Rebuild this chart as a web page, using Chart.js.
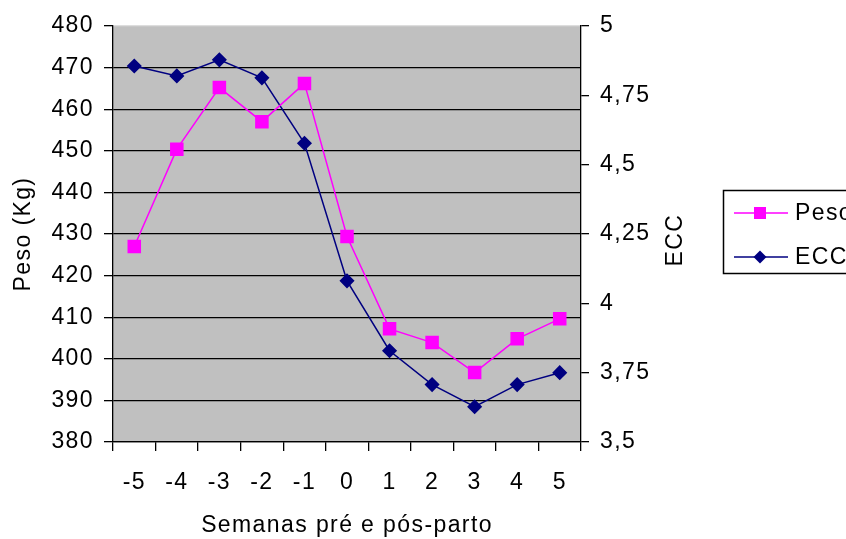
<!DOCTYPE html>
<html>
<head>
<meta charset="utf-8">
<script src="https://cdn.jsdelivr.net/npm/chart.js@4/dist/chart.umd.min.js"></script>
<style>
html,body{margin:0;padding:0;background:#fff;overflow:hidden;}
canvas{display:block;}
</style>
</head>
<body>
<canvas id="c" width="846" height="539"></canvas>
<script>
const categories = ['-5','-4','-3','-2','-1','0','1','2','3','4','5'];
const pesoValues = [427, 450.4, 465.2, 457.0, 466.2, 429.4, 407.2, 403.9, 396.7, 404.8, 409.6];
const eccValues = [4.856, 4.82, 4.878, 4.813, 4.577, 4.081, 3.829, 3.707, 3.627, 3.707, 3.75];
const pesoLabel = 'Peso';
const eccLabel = 'ECC';
const leftTitle = 'Peso (Kg)';
const rightTitle = 'ECC';
const xTitle = 'Semanas pré e pós-parto';

const FONT = '"Liberation Sans", Arial, sans-serif';
const FS = 23;
const LS = '1.4px';

const spacingPlugin = {
  id: 'spacing',
  beforeInit(chart) { chart.ctx.letterSpacing = LS; },
  beforeUpdate(chart) { chart.ctx.letterSpacing = LS; },
  beforeDraw(chart) { chart.ctx.letterSpacing = LS; }
};

const bgPlugin = {
  id: 'bg',
  beforeDraw(chart) {
    const {ctx, chartArea: a} = chart;
    ctx.save();
    ctx.fillStyle = '#C0C0C0';
    ctx.fillRect(a.left, a.top, a.right - a.left, a.bottom - a.top);
    ctx.restore();
  }
};

const extrasPlugin = {
  id: 'extras',
  afterDraw(chart) {
    const ctx = chart.ctx;
    const a = chart.chartArea;
    ctx.save();
    ctx.letterSpacing = LS;
    ctx.font = FS + 'px ' + FONT;
    ctx.fillStyle = '#000';
    ctx.textAlign = 'center';
    ctx.textBaseline = 'middle';
    ctx.translate(676, (a.top + a.bottom) / 2 + 6);
    ctx.rotate(-Math.PI / 2);
    ctx.fillText(rightTitle, 0, 0);
    ctx.restore();

    // legend
    ctx.save();
    ctx.letterSpacing = LS;
    const bx = 723.5, by = 190.5, bw = 200, bh = 83;
    ctx.fillStyle = '#fff';
    ctx.fillRect(bx, by, bw, bh);
    ctx.strokeStyle = '#000';
    ctx.lineWidth = 1.5;
    ctx.strokeRect(bx, by, bw, bh);
    const rows = [213, 257];
    chart.data.datasets.forEach((ds, i) => {
      const y = rows[i];
      ctx.strokeStyle = ds.borderColor;
      ctx.lineWidth = ds.borderWidth;
      ctx.beginPath();
      ctx.moveTo(734, y);
      ctx.lineTo(788, y);
      ctx.stroke();
      ctx.fillStyle = ds.pointBackgroundColor;
      ctx.beginPath();
      if (ds.pointStyle === 'rect') {
        const s = Math.SQRT1_2 * ds.pointRadius;
        ctx.rect(760 - s, y - s, 2 * s, 2 * s);
      } else {
        const r = ds.pointRadius;
        ctx.moveTo(760 - r, y); ctx.lineTo(760, y - r); ctx.lineTo(760 + r, y); ctx.lineTo(760, y + r); ctx.closePath();
      }
      ctx.fill();
      ctx.fillStyle = '#000';
      ctx.font = FS + 'px ' + FONT;
      ctx.textAlign = 'left';
      ctx.textBaseline = 'middle';
      ctx.fillText(ds.label, 795, y + 1);
    });
    ctx.restore();
  }
};

new Chart(document.getElementById('c'), {
  type: 'line',
  data: {
    labels: categories,
    datasets: [
      {
        label: pesoLabel,
        data: pesoValues,
        yAxisID: 'y',
        borderColor: '#FF00FF',
        backgroundColor: '#FF00FF',
        pointBackgroundColor: '#FF00FF',
        pointBorderColor: '#FF00FF',
        pointStyle: 'rect',
        pointRadius: 8.5,
        pointHoverRadius: 8.5,
        borderWidth: 1.5,
        tension: 0
      },
      {
        label: eccLabel,
        data: eccValues,
        yAxisID: 'y2',
        borderColor: '#000080',
        backgroundColor: '#000080',
        pointBackgroundColor: '#000080',
        pointBorderColor: '#000080',
        pointStyle: 'rectRot',
        pointRadius: 6.5,
        pointHoverRadius: 6.5,
        borderWidth: 1.5,
        tension: 0
      }
    ]
  },
  options: {
    responsive: false,
    animation: false,
    events: [],
    layout: { padding: { left: 10, right: 155, top: 26, bottom: 0 } },
    plugins: {
      legend: { display: false },
      tooltip: { enabled: false }
    },
    scales: {
      x: {
        type: 'category',
        offset: true,
        grid: { offset: true, drawOnChartArea: false, color: '#000', tickLength: 9, tickColor: '#000', lineWidth: 1.3 },
        border: { display: true, color: '#000', width: 1.3 },
        ticks: { color: '#000', font: { family: FONT, size: FS }, padding: 18, maxRotation: 0 },
        title: { display: true, text: xTitle, color: '#000', font: { family: FONT, size: FS }, padding: { top: 0, bottom: 0 } },
        afterFit(s) { s.height = 97; }
      },
      y: {
        position: 'left',
        min: 380, max: 480,
        ticks: { stepSize: 10, color: '#000', font: { family: FONT, size: FS }, padding: 10 },
        grid: {
          color: (c) => (c.tick && c.tick.value === 480) ? '#DDDDDD' : '#000',
          tickColor: '#000',
          tickLength: 9,
          lineWidth: 1.3
        },
        border: { display: true, color: '#000', width: 1.3 },
        title: { display: true, text: leftTitle, color: '#000', font: { family: FONT, size: FS }, padding: { top: 0, bottom: 0 } },
        afterFit(s) { s.width = 103; }
      },
      y2: {
        position: 'right',
        min: 3.5, max: 5,
        ticks: {
          stepSize: 0.25, color: '#000', font: { family: FONT, size: FS }, padding: 11,
          callback: (v) => String(v).replace('.', ',')
        },
        grid: { drawOnChartArea: false, color: '#000', tickColor: '#000', tickLength: 8, lineWidth: 1.3 },
        border: { display: true, color: '#000', width: 1.3 },
        afterFit(s) { s.width = 110; }
      }
    }
  },
  plugins: [spacingPlugin, bgPlugin, extrasPlugin]
});
</script>
</body>
</html>
